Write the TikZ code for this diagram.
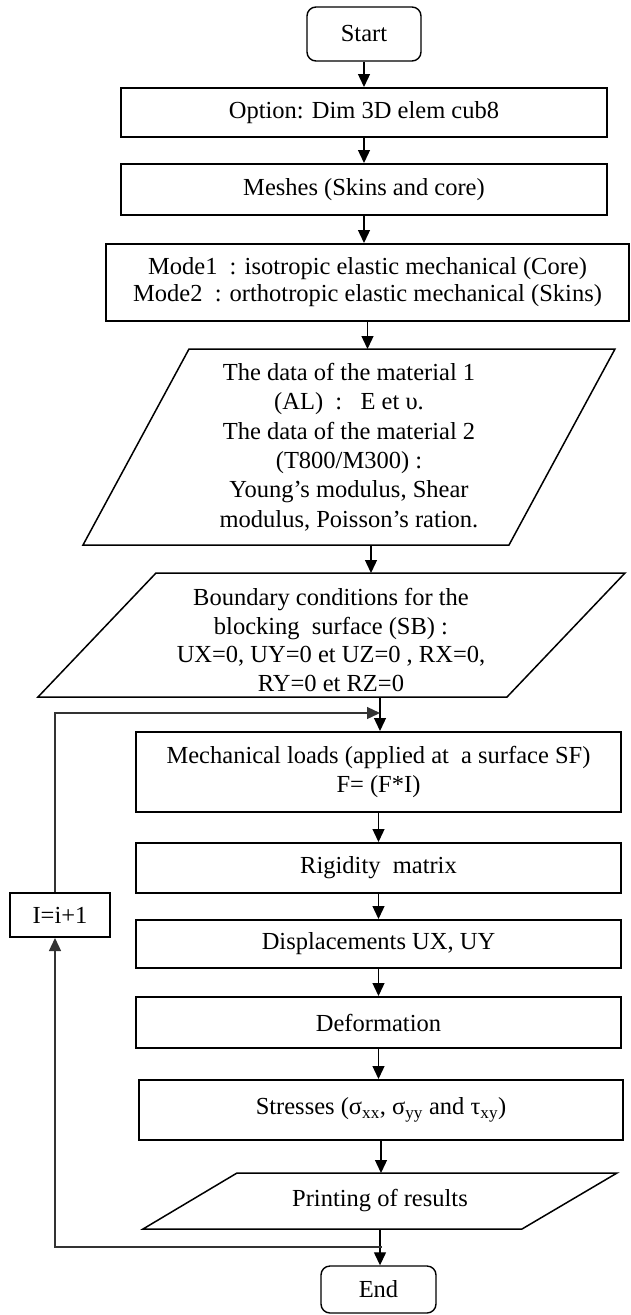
\documentclass[tikz,border=0pt]{standalone}
\usepackage{fontspec}
\setmainfont{Liberation Serif}
\usepackage{tikz}
\usetikzlibrary{arrows.meta, positioning}

\begin{document}
\begin{tikzpicture}[x=1pt, y=-1pt, font=\fontsize{24.5}{28.5}\selectfont]
\tikzstyle{process} = [rectangle, draw, line width=2pt, align=center, inner sep=0pt]
\tikzstyle{terminal} = [rectangle, draw, rounded corners=9pt, line width=1.4pt, inner sep=0pt]
\tikzstyle{io} = [draw, line width=1.5pt, line join=miter]
\tikzstyle{arrow} = [line width=1.3pt, -{Triangle[length=13pt, width=12pt]}]
\tikzstyle{loopline} = [line width=1.3pt, draw=black!80]

\useasboundingbox (0,0) rectangle (630,1315);

% upper chain
\node (start) [terminal, minimum width=114pt, minimum height=54pt] at (364,34) {Start};
\node (option) [process, minimum width=486pt, minimum height=49pt] at (364,112.5) {Option: Dim 3D elem cub8};
\node (meshes) [process, minimum width=486pt, minimum height=51pt] at (364,189.5) {Meshes (Skins and core)};
\node (mode) [process, minimum width=523pt, minimum height=77pt, font=\fontsize{24.5}{27}\selectfont] at (367.5,282.5)
  {Mode1\ \ : isotropic elastic mechanical (Core)\\Mode2\ \ : orthotropic elastic mechanical (Skins)};

% data of the materials
\draw[io] (83,545) -- (189,349) -- (615,349) -- (509,545) -- cycle;
\node (data) [align=center, font=\fontsize{24.5}{29.4}\selectfont] at (349,447)
  {The data of the material 1\\(AL)\ \ :\ \ \ E et υ.\\The data of the material 2\\(T800/M300) :\\Young’s modulus, Shear\\modulus, Poisson’s ration.};
\coordinate (dataT) at (372,349);
\coordinate (dataB) at (371,545);

% boundary conditions
\draw[io] (38,697) -- (156,573) -- (625,573) -- (507,697) -- cycle;
\node (bc) [align=center] at (331,640)
  {Boundary conditions for the\\blocking\ \ surface (SB) :\\UX=0, UY=0 et UZ=0 , RX=0,\\RY=0 et RZ=0};
\coordinate (bcT) at (371,573);
\coordinate (bcB) at (380,697);

% loaded loop
\node (loads) [process, minimum width=485pt, minimum height=80pt] at (378.5,772)
  {Mechanical loads (applied at\ \ a surface SF)\\F= (F*I)};
\node (rigid) [process, minimum width=485pt, minimum height=50pt] at (378.5,868) {Rigidity\ \ matrix};
\node (displ) [process, minimum width=485pt, minimum height=48pt] at (378.5,944) {Displacements UX, UY};
\node (deform) [process, minimum width=485pt, minimum height=51pt] at (378.5,1022.5) {Deformation};
\node (stress) [process, minimum width=484pt, minimum height=60pt] at (381,1110)
  {Stresses (σ\textsubscript{xx}, σ\textsubscript{yy} and τ\textsubscript{xy})};

% printing
\draw[io] (143,1229) -- (237,1173) -- (617,1173) -- (522,1229) -- cycle;
\node (print) at (380,1201) {Printing of results};
\coordinate (printT) at (380,1173);
\coordinate (printB) at (380,1229);

\node (stop) [terminal, minimum width=115pt, minimum height=47pt] at (378.5,1289.5) {End};
\node (inc) [process, minimum width=100pt, minimum height=44pt] at (60,915) {I=i+1};

% connectors
\draw[arrow] (start) -- (option);
\draw[arrow] (option) -- (meshes);
\draw[arrow] (meshes.south) -- (meshes.south |- mode.north);
\draw[arrow] (mode.south) -- (mode.south |- dataT);
\draw[arrow] (dataB) -- (dataB |- bcT);
\draw[arrow] (bcB) -- (bcB |- loads.north);
\draw[arrow] (loads.south) -- (loads.south |- rigid.north);
\draw[arrow] (rigid.south) -- (rigid.south |- displ.north);
\draw[arrow] (displ.south) -- (displ.south |- deform.north);
\draw[arrow] (deform.south) -- (deform.south |- stress.north);
\draw[arrow] (stress.south) -- (stress.south |- printT);
\draw[arrow] (printB) -- (printB |- stop.north);

% feedback
\coordinate (jb) at (382,1247);
\coordinate (lb) at (55,1247);
\coordinate (lt) at (55,713);
\coordinate (jt) at (380,713);
\draw[loopline, arrow] (jb) -- (lb) -- (lb |- inc.south);
\draw[loopline, arrow] (lb |- inc.north) -- (lt) -- (jt);

\end{tikzpicture}
\end{document}
